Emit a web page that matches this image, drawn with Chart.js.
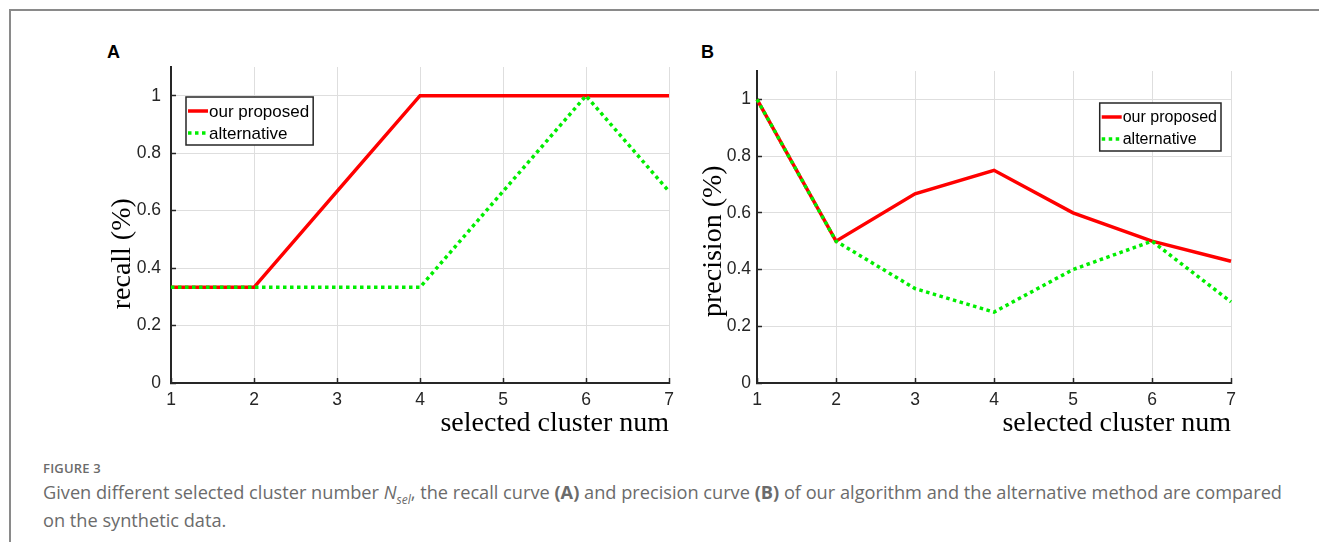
<!DOCTYPE html>
<html>
<head>
<meta charset="utf-8">
<script src="https://cdn.jsdelivr.net/npm/chart.js@4"></script>
<style>
  body { margin: 0; background: #fff; width: 1319px; height: 542px; position: relative; overflow: hidden; }
  .frame { position: absolute; left: 9px; top: 9px; width: 1320px; height: 540px;
           border-top: 2px solid #8a8a8a; border-left: 2px solid #8a8a8a; }
  .panel-letter { position: absolute; font: bold 18px "Liberation Sans", Arial, sans-serif; color: #000; }
  canvas { position: absolute; }
  .caption { position: absolute; left: 43px; top: 459px; font-family: "Open Sans", sans-serif; color: #6b6b6b; }
  .caption .fig { font-size: 13px; font-weight: 600; letter-spacing: 0.2px; }
  .caption .txt { font-size: 18.2px; line-height: 28px; margin-top: 1px; }
  .caption sub { font-size: 12px; line-height: 0; }
</style>
</head>
<body>
<div class="frame"></div>
<div class="panel-letter" style="left:107px; top:42px;">A</div>
<div class="panel-letter" style="left:701px; top:42px;">B</div>
<canvas id="recallChart" width="600" height="390" style="left:95px; top:55px;"></canvas>
<canvas id="precisionChart" width="560" height="390" style="left:690px; top:55px;"></canvas>
<div class="caption">
  <div class="fig">FIGURE 3</div>
  <div class="txt">Given different selected cluster number <i>N<sub>sel</sub></i>, the recall curve <b>(A)</b> and precision curve <b>(B)</b> of our algorithm and the alternative method are compared<br>on the synthetic data.</div>
</div>

<script>
// x axis categories (selected cluster num)
const clusterNums = ["1", "2", "3", "4", "5", "6", "7"];
// y tick labels shared by both panels
const yTickValues = [0, 0.2, 0.4, 0.6, 0.8, 1];
const seriesNames = ["our proposed", "alternative"];

// panel A - recall
const recallOurs = [0.333, 0.333, 0.667, 1, 1, 1, 1];
const recallAlt = [0.333, 0.333, 0.333, 0.333, 0.667, 1, 0.667];

// panel B - precision
const precisionOurs = [1, 0.5, 0.667, 0.75, 0.6, 0.5, 0.429];
const precisionAlt = [1, 0.5, 0.333, 0.25, 0.4, 0.5, 0.286];

const axisColor = "#262626";
const gridColor = "#dedede";
const sansFont = "'Liberation Sans', Arial, sans-serif";
const serifFont = "'Liberation Serif', 'Times New Roman', serif";

//draws the rotated y axis title centered on a given y value
const yTitlePlugin = {
  id: "yTitle",
  afterDraw(chart, args, opts) {
    const ctx = chart.ctx;
    const y = chart.scales.y.getPixelForValue(opts.value);
    ctx.save();
    ctx.translate(chart.chartArea.left - opts.dx, y);
    ctx.rotate(-Math.PI / 2);
    ctx.font = "28px " + serifFont;
    ctx.fillStyle = "#000";
    ctx.textAlign = "center";
    ctx.textBaseline = "middle";
    ctx.fillText(opts.text, 0, 0);
    ctx.restore();
  },
};

//matlab style legend: white box with black border inside the plot
const boxLegendPlugin = {
  id: "boxLegend",
  afterDraw(chart, args, opts) {
    const ctx = chart.ctx;
    const area = chart.chartArea;
    const sets = chart.data.datasets;
    ctx.save();
    ctx.font = opts.fontSize + "px " + sansFont;
    const textW = Math.max(...sets.map((ds) => ctx.measureText(ds.label).width));
    const w = 2 + 20 + 1 + textW + 4;
    const h = 48;
    const left = opts.anchor === "right" ? area.right - opts.x - w : area.left + opts.x;
    const top = area.top + opts.y;

    ctx.fillStyle = "#fff";
    ctx.fillRect(left, top, w, h);
    ctx.strokeStyle = "#262626";
    ctx.lineWidth = 1.5;
    ctx.strokeRect(left, top, w, h);

    sets.forEach((ds, i) => {
      const rowY = top + 14 + i * 22;
      ctx.beginPath();
      ctx.setLineDash(ds.borderDash || []);
      ctx.strokeStyle = ds.borderColor;
      ctx.lineWidth = ds.borderWidth;
      ctx.moveTo(left + 2, rowY);
      ctx.lineTo(left + 22, rowY);
      ctx.stroke();
      ctx.setLineDash([]);
      ctx.fillStyle = "#000";
      ctx.textBaseline = "middle";
      ctx.fillText(ds.label, left + 23, rowY + 1);
    });
    ctx.restore();
  },
};

function makeChart(canvasId, ours, alt, setup) {
  return new Chart(canvasId, {
    type: "line",
    data: {
      labels: clusterNums,
      datasets: [
        {
          label: seriesNames[0],
          data: ours,
          borderColor: "#ff0000",
          borderWidth: 3.5,
          pointRadius: 0,
          order: 2,
        },
        {
          label: seriesNames[1],
          data: alt,
          borderColor: "#00ee00",
          borderWidth: 3.5,
          borderDash: [3.5, 3.5],
          pointRadius: 0,
          order: 1, //green dotted line sits on top of the red one
        },
      ],
    },
    options: {
      responsive: false,
      animation: false,
      devicePixelRatio: 1,
      layout: { padding: setup.padding },
      plugins: {
        legend: { display: false },
        tooltip: { enabled: false },
        yTitle: setup.yTitle,
        boxLegend: setup.legend,
      },
      scales: {
        x: {
          offset: false,
          grid: { color: gridColor, tickLength: -5, tickColor: axisColor, tickWidth: 1.5 },
          border: { color: axisColor, width: 2 },
          ticks: { color: axisColor, padding: 12, maxRotation: 0, font: { family: sansFont, size: 17.5 } },
          title: {
            display: true,
            text: "selected cluster num",
            align: "end",
            color: "#000",
            padding: { top: 0, bottom: 5 },
            font: { family: serifFont, size: 28 },
          },
          afterFit: (scale) => {
            scale.height = 62;
            scale.paddingLeft = 0;
            scale.paddingRight = 0;
          },
        },
        y: {
          min: 0,
          max: 1.1,
          grid: { color: gridColor, tickLength: -5, tickColor: axisColor, tickWidth: 1.5 },
          border: { color: axisColor, width: 2 },
          ticks: {
            color: axisColor,
            padding: setup.yTickPad,
            font: { family: sansFont, size: 17.5 },
            callback: (v) => String(+v.toFixed(1)), //matlab style: 1 and 0, not 1.0
          },
          afterBuildTicks: (scale) => { scale.ticks = yTickValues.map((v) => ({ value: v })); },
          afterFit: (scale) => {
            scale.width = setup.yWidth;
            scale.paddingTop = 0;
            scale.paddingBottom = 0;
          },
        },
      },
    },
    plugins: [yTitlePlugin, boxLegendPlugin],
  });
}

makeChart("recallChart", recallOurs, recallAlt, {
  padding: { top: 12, right: 26, left: 0, bottom: 0 },
  yWidth: 76,
  yTickPad: 15,
  yTitle: { text: "recall (%)", dx: 48, value: 0.45 },
  legend: { anchor: "left", x: 15, y: 30, fontSize: 17 },
});

makeChart("precisionChart", precisionOurs, precisionAlt, {
  padding: { top: 16, right: 19, left: 0, bottom: 0 },
  yWidth: 67,
  yTickPad: 11,
  yTitle: { text: "precision (%)", dx: 43, value: 0.5 },
  legend: { anchor: "right", x: 10, y: 32, fontSize: 16 },
});
</script>
</body>
</html>
